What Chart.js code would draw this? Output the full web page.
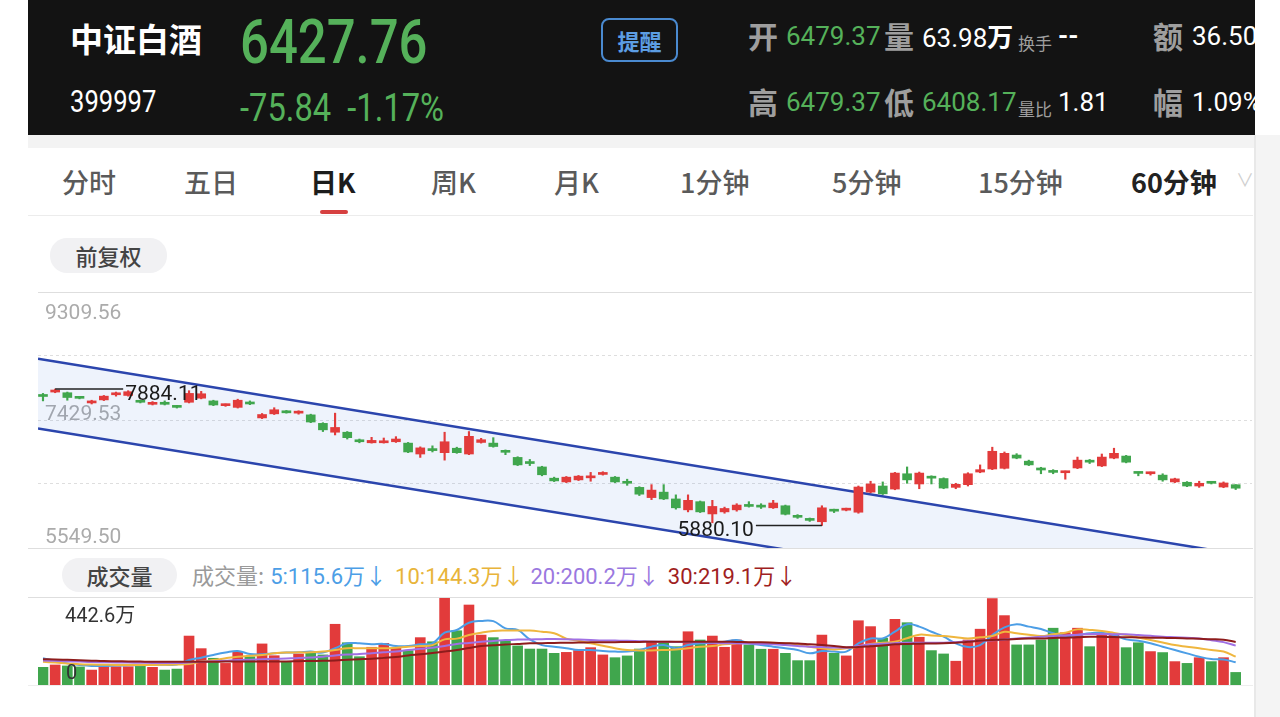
<!DOCTYPE html>
<html>
<head>
<meta charset="utf-8">
<script src="https://cdn.jsdelivr.net/npm/chart.js@4.4.0/dist/chart.umd.min.js"></script>
<style>
html, body { margin: 0; padding: 0; }
body { width: 1280px; height: 717px; position: relative; overflow: hidden; background: #fff;
  font-family: Roboto, "Noto Sans CJK SC", sans-serif; }
.abs { position: absolute; white-space: nowrap; line-height: 1; }
.cjk { font-family: "Noto Sans CJK SC", sans-serif; }
.cond { display: inline-block; transform-origin: left center; }
#head { position: absolute; left: 28px; top: 0; width: 1227px; height: 135px; background: #131313; overflow: hidden; }
#head .lab { font-family: "Noto Sans CJK SC"; font-size: 30px; font-weight: 700; color: #9e9e9e; }
#head .num { font-size: 26px; }
.green { color: #55b15a; }
.tab { font-family: "Noto Sans CJK SC", sans-serif; font-size: 27px; font-weight: 500; color: #5a5a5a; top: 168px; }
.pill { position: absolute; background: #f1f1f3; border-radius: 17px; text-align: center;
  font-family: "Noto Sans CJK SC"; font-size: 22px; font-weight: 500; color: #444; }
.hline { position: absolute; height: 1px; background: #dedede; }
</style>
</head>
<body>

<div id="head">
  <div class="abs cjk" style="left:42px;top:22px;font-size:33px;font-weight:700;color:#fff">中证白酒</div>
  <div class="abs green" style="left:212px;top:11px;font-size:62px;font-weight:500"><span class="cond" style="transform:scaleX(.82)">6427.76</span></div>
  <div class="abs" style="left:42px;top:85px;font-size:32px;color:#fff"><span class="cond" style="transform:scaleX(.8)">399997</span></div>
  <div class="abs green" style="left:212px;top:89px;font-size:38px"><span class="cond" style="transform:scaleX(.86)">-75.84&nbsp;&nbsp;-1.17%</span></div>
  <div class="abs cjk" style="left:573px;top:18px;width:77px;height:44px;box-sizing:border-box;border:2px solid #4a8ad0;border-radius:8px;text-align:center;line-height:40px;font-size:22px;font-weight:700;color:#5c9de3">提醒</div>

  <div class="abs lab" style="left:720px;top:20px">开</div>
  <div class="abs num green" style="left:758px;top:23px">6479.37</div>
  <div class="abs lab" style="left:856px;top:20px">量</div>
  <div class="abs num" style="left:894px;top:23px;color:#fff">63.98<span class="cjk" style="font-weight:700">万</span></div>
  <div class="abs cjk" style="left:990px;top:34px;font-size:17px;color:#9e9e9e">换手</div>
  <div class="abs num" style="left:1030px;top:23px;color:#fff;font-weight:700">--</div>
  <div class="abs lab" style="left:1125px;top:20px">额</div>
  <div class="abs num" style="left:1164px;top:23px;color:#fff">36.50亿</div>

  <div class="abs lab" style="left:720px;top:86px">高</div>
  <div class="abs num green" style="left:758px;top:89px">6479.37</div>
  <div class="abs lab" style="left:856px;top:86px">低</div>
  <div class="abs num green" style="left:894px;top:89px">6408.17</div>
  <div class="abs cjk" style="left:990px;top:100px;font-size:17px;color:#9e9e9e">量比</div>
  <div class="abs num" style="left:1030px;top:89px;color:#fff">1.81</div>
  <div class="abs lab" style="left:1125px;top:86px">幅</div>
  <div class="abs num" style="left:1164px;top:89px;color:#fff">1.09%</div>
</div>

<div class="abs" style="left:28px;top:135px;width:1227px;height:13px;background:#f3f3f3"></div>
<div class="abs" style="left:1254px;top:135px;width:26px;height:582px;background:#f4f4f4;border-left:2px solid #e8e8e8"></div>

<div class="abs tab" style="left:62px">分时</div>
<div class="abs tab" style="left:184px">五日</div>
<div class="abs tab" style="left:310px;color:#1c1c1c;font-weight:700">日K</div>
<div class="abs tab" style="left:431px">周K</div>
<div class="abs tab" style="left:554px">月K</div>
<div class="abs tab" style="left:680px">1分钟</div>
<div class="abs tab" style="left:832px">5分钟</div>
<div class="abs tab" style="left:978px">15分钟</div>
<div class="abs tab" style="left:1131px;color:#222;font-weight:700">60分钟</div>
<div class="abs" style="left:1236px;top:172px;font-size:18px;color:#cfcfcf">∨</div>
<div class="abs" style="left:320px;top:210px;width:28px;height:4px;border-radius:2px;background:#d64040"></div>
<div class="hline" style="left:28px;top:215px;width:1225px;background:#ececec"></div>

<div class="pill" style="left:50px;top:238px;width:117px;height:35px;line-height:35px">前复权</div>

<canvas id="kline" class="abs" width="1214" height="256" style="left:38px;top:292px"></canvas>
<div class="hline" style="left:38px;top:292px;width:1214px"></div>
<div class="hline" style="left:28px;top:548px;width:1225px"></div>

<div class="pill" style="left:62px;top:558px;width:115px;height:34px;line-height:34px">成交量</div>
<div class="abs" style="left:192px;top:563px;font-size:22px">
  <span class="cjk" style="color:#9a9a9a">成交量:</span><span style="color:#4c9ee6;margin-left:6px">5:115.6<span class="cjk">万</span>↓</span><span style="color:#e8b43a;margin-left:8px">10:144.3<span class="cjk">万</span>↓</span><span style="color:#9a78e0;margin-left:6px">20:200.2<span class="cjk">万</span>↓</span><span style="color:#a01e22;margin-left:8px">30:219.1<span class="cjk">万</span>↓</span>
</div>

<div class="hline" style="left:28px;top:597px;width:1225px"></div>
<canvas id="volume" class="abs" width="1214" height="87" style="left:38px;top:598px"></canvas>
<div class="hline" style="left:28px;top:685px;width:1225px;background:#eeeeee"></div>

<script>
// 日K 数据
const open = [7785,7840,7830,7765,7680,7725,7800,7790,7710,7660,7690,7635,7690,7750,7710,7640,7615,7680,7460,7520,
  7565,7530,7505,7380,7250,7250,7136,7095,7095,7110,7090,6930,7000,6950,7015,6930,7100,7090,6965,6880,
  6800,6740,6575,6520,6550,6580,6630,6590,6510,6440,6290,6370,6270,6110,6230,6050,6080,6110,6175,6160,
  6140,6170,6010,5965,5935,6105,6105,6075,6370,6460,6415,6640,6490,6590,6570,6440,6480,6665,6710,6720,
  6915,6825,6725,6670,6655,6725,6820,6755,6870,6900,6655,6640,6620,6520,6515,6460,6510,6445,6479.37];
const high = [7820,7884.11,7840,7775,7720,7790,7840,7860,7720,7700,7710,7645,7860,7850,7720,7665,7735,7710,7525,7610,
  7570,7565,7515,7390,7530,7260,7150,7175,7165,7185,7100,7035,7050,7250,7030,7260,7160,7170,6990,6890,
  6850,6750,6590,6600,6615,6660,6670,6600,6560,6450,6480,6480,6330,6330,6240,6250,6150,6200,6230,6200,
  6250,6180,6040,5990,6170,6120,6135,6460,6530,6520,6660,6740,6665,6610,6580,6500,6655,6770,7030,6960,
  6935,6840,6735,6700,6680,6885,6850,6930,7015,6910,6665,6665,6640,6575,6525,6530,6520,6520,6479.37];
const low = [7710,7830,7720,7740,7665,7715,7780,7780,7680,7650,7650,7605,7680,7740,7640,7630,7605,7655,7450,7510,
  7530,7515,7390,7260,7210,7150,7095,7090,7090,7100,6950,6880,6960,6840,6940,6920,7090,7030,6920,6760,
  6760,6610,6525,6510,6540,6530,6620,6510,6470,6320,6260,6260,6120,6080,6070,5920,6060,6090,6150,6130,
  6130,6035,5985,5940,5880.10,6070,6095,6060,6360,6335,6405,6500,6420,6490,6420,6420,6460,6655,6700,6710,
  6860,6760,6640,6640,6560,6715,6790,6745,6860,6800,6610,6620,6530,6510,6450,6440,6490,6435,6408.17];
const close = [7775,7870,7760,7748,7710,7780,7815,7845,7690,7680,7660,7615,7820,7815,7650,7655,7720,7665,7510,7580,
  7535,7540,7400,7285,7320,7170,7110,7130,7120,7150,6960,7020,6980,7110,6950,7190,7140,7040,6955,6770,
  6790,6625,6535,6590,6605,6595,6645,6520,6500,6340,6400,6270,6140,6250,6080,6160,6130,6180,6160,6150,
  6210,6045,6000,5955,6140,6090,6120,6445,6490,6345,6650,6550,6650,6575,6430,6485,6640,6700,6970,6940,
  6870,6770,6695,6660,6670,6840,6810,6885,6940,6810,6645,6660,6550,6565,6460,6500,6500,6505,6427.76];

// 成交量（万）
const volume = [90,102,97,92,76,93,93,93,97,90,76,81,249,185,136,110,170,144,209,149,
  119,158,161,153,309,215,144,192,212,187,175,241,220,442.6,276,407,254,241,225,199,
  183,183,161,166,175,190,153,139,148,183,220,215,195,271,229,249,192,229,204,182,
  182,161,124,124,254,161,148,327,297,238,334,317,243,175,158,121,229,284,440,353,
  204,204,229,289,266,289,195,263,254,190,215,170,165,119,110,139,119,139,63.98];
const ma5 = [136,124,110,102,97,97,99,100,101,102,103,104,127,139,153,165,173,158,156,161,
  165,166,170,165,187,212,212,207,209,198,198,207,212,266,280,317,326,325,288,280,
  232,203,195,187,178,178,173,170,170,178,195,203,187,203,212,215,220,229,212,203,
  195,187,178,161,173,170,170,212,237,237,271,309,297,271,246,212,193,203,254,293,
  309,297,285,263,249,254,263,266,254,232,225,212,195,178,161,144,132,130,115.6];
const ma10 = [118,114,110,106,104,103,102,102,102,102,103,104,107,119,127,136,144,149,153,161,
  165,166,166,170,178,187,187,187,187,190,195,198,203,232,236,254,266,275,277,277,
  277,271,263,236,225,212,200,187,178,176,176,178,181,187,195,198,207,212,215,215,
  215,212,207,195,187,181,187,195,209,215,220,238,256,252,249,243,237,243,249,271,
  263,256,249,258,266,283,280,275,265,254,242,229,216,203,195,187,178,170,144.3];
const ma20 = [125,123,121,119,117,116,115,114,113,112,112,112,115,118,121,124,127,129,131,133,
  135,137,140,144,150,155,158,162,166,170,178,184,190,198,209,214,220,224,229,231,
  232,233,234,233,231,229,227,226,225,223,221,220,219,218,217,215,213,212,211,209,
  207,203,199,195,193,191,190,198,207,210,213,215,215,215,215,218,222,225,228,232,
  237,241,245,249,252,256,259,259,258,258,254,250,246,243,240,237,228,218,200.2];
const ma30 = [131,130,128,126,124,122,121,120,119,118,118,118,118,118,118,119,119,119,119,120,
  120,121,122,123,125,128,131,134,138,142,150,156,163,170,178,188,198,202,206,209,
  212,213,214,215,216,217,218,218,219,219,220,220,220,220,220,220,220,219,218,217,
  215,213,211,207,203,198,192,193,197,201,207,209,210,211,212,215,220,225,229,232,
  234,236,237,239,241,243,246,245,244,243,242,241,240,239,237,235,233,230,219.1];

// 通道线（两端点）
const channelX = [-0.41, 99.34];
const channelUpper = [8331, 5424.6];
const channelLower = [7304.7, 4415.6];

// 坐标刻度
const priceMin = 5549.50, priceMax = 9309.56;
const priceGrid = [6489.52, 7429.53, 8369.55];
const priceTickLabels = ["9309.56", "7429.53", "5549.50"];
const volumeMax = 442.6;

const RED = "#e23b3b", GREEN = "#40a64d";
const idx = close.map((_, i) => i);
const barColors = idx.map(i => close[i] >= open[i] ? RED : GREEN);

// 价格标签、最高/最低标注
const klineLabels = {
  id: "klineLabels",
  beforeDatasetsDraw(chart) {
    const { ctx, scales: { y } } = chart;
    ctx.save();
    ctx.font = "21px Roboto";
    ctx.fillStyle = "#ababab";
    ctx.textBaseline = "middle";
    ctx.fillText(priceTickLabels[0], 7, y.getPixelForValue(priceMax) + 22);
    ctx.fillText(priceTickLabels[1], 7, y.getPixelForValue((priceMax + priceMin) / 2) - 5);
    ctx.fillText(priceTickLabels[2], 7, y.getPixelForValue(priceMin) - 10);
    ctx.restore();
  },
  afterDatasetsDraw(chart) {
    const { ctx, scales: { x, y } } = chart;
    const hi = high.indexOf(Math.max(...high));
    const lo = low.indexOf(Math.min(...low));
    ctx.save();
    ctx.strokeStyle = "#222";
    ctx.lineWidth = 1.5;
    ctx.fillStyle = "#1a1a1a";
    ctx.font = "21px Roboto";
    ctx.textBaseline = "middle";

    let px = x.getPixelForValue(hi), py = y.getPixelForValue(high[hi]);
    ctx.beginPath(); ctx.moveTo(px, py); ctx.lineTo(px + 68, py); ctx.stroke();
    ctx.textAlign = "left";
    ctx.fillText(high[hi].toFixed(2), px + 70, py + 6);

    px = x.getPixelForValue(lo); py = y.getPixelForValue(low[lo]);
    ctx.beginPath(); ctx.moveTo(px, py); ctx.lineTo(px - 66, py); ctx.stroke();
    ctx.textAlign = "right";
    ctx.fillText(low[lo].toFixed(2), px - 68, py + 5);
    ctx.restore();
  }
};

const xAxis = { type: "linear", min: -0.41, max: 99.34, offset: false, display: false };

new Chart(document.getElementById("kline"), {
  type: "bar",
  data: {
    datasets: [
      {
        type: "line",
        data: channelX.map((v, i) => ({ x: v, y: channelUpper[i] })),
        borderColor: "#2b45ad", borderWidth: 2.5, pointRadius: 0, fill: false, order: 5
      },
      {
        type: "line",
        data: channelX.map((v, i) => ({ x: v, y: channelLower[i] })),
        borderColor: "#2b45ad", borderWidth: 2.5, pointRadius: 0,
        fill: "-1", backgroundColor: "rgba(70,120,225,0.09)", order: 5
      },
      {
        data: idx.map(i => ({ x: i, y: [low[i], high[i]] })),
        backgroundColor: barColors, barThickness: 1.5, grouped: false, order: 2
      },
      {
        data: idx.map(i => ({ x: i, y: [open[i], close[i]] })),
        backgroundColor: barColors, barThickness: 9, minBarLength: 2, grouped: false, order: 1
      }
    ]
  },
  options: {
    responsive: false,
    animation: false,
    layout: { padding: 0 },
    plugins: { legend: { display: false }, tooltip: { enabled: false } },
    scales: {
      x: xAxis,
      y: {
        min: priceMin, max: priceMax,
        afterBuildTicks: s => { s.ticks = priceGrid.map(v => ({ value: v })); },
        ticks: { display: false },
        grid: { drawTicks: false, color: "#dedede" },
        border: { display: false, dash: [3, 3] }
      }
    }
  },
  plugins: [klineLabels]
});

const volumeLabels = {
  id: "volumeLabels",
  afterDatasetsDraw(chart) {
    const { ctx, scales: { y } } = chart;
    ctx.save();
    ctx.font = "20px Roboto, 'Noto Sans CJK SC'";
    ctx.fillStyle = "#333";
    ctx.textBaseline = "middle";
    ctx.fillText(volumeMax + "万", 27, y.getPixelForValue(volumeMax) + 19);
    ctx.fillText("0", 28, y.getPixelForValue(0) - 11);
    ctx.restore();
  }
};

const maLine = (arr, color) => ({
  type: "line",
  data: idx.map(i => ({ x: i, y: arr[i] })),
  borderColor: color, borderWidth: 2, pointRadius: 0, tension: 0.4, order: 0
});

new Chart(document.getElementById("volume"), {
  type: "bar",
  data: {
    datasets: [
      maLine(ma30, "#8e1c1c"),
      maLine(ma20, "#a070e4"),
      maLine(ma10, "#efb63e"),
      maLine(ma5, "#4c9ee6"),
      {
        data: idx.map(i => ({ x: i, y: volume[i] })),
        backgroundColor: barColors, barThickness: 10, grouped: false, order: 1
      }
    ]
  },
  options: {
    responsive: false,
    animation: false,
    layout: { padding: 0 },
    plugins: { legend: { display: false }, tooltip: { enabled: false } },
    scales: {
      x: xAxis,
      y: { min: 0, max: volumeMax, display: false }
    }
  },
  plugins: [volumeLabels]
});
</script>
</body>
</html>
